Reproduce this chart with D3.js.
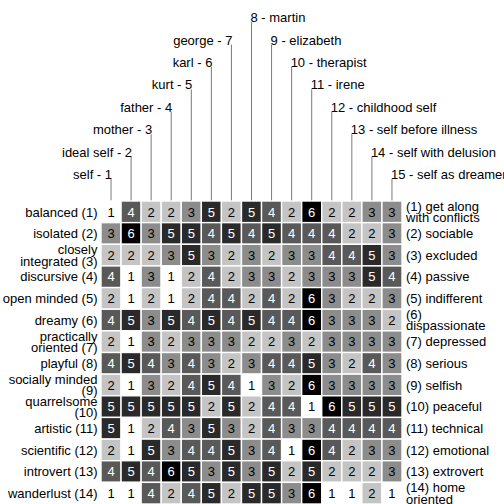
<!DOCTYPE html>
<html>
<head>
<meta charset="utf-8">
<script src="https://cdn.jsdelivr.net/npm/d3@7"></script>
<style>
  html, body { margin: 0; padding: 0; background: #fff; }
  svg { display: block; }
  text { font-family: "Liberation Sans", Arial, sans-serif; }
</style>
</head>
<body>
<svg id="chart" width="504" height="504"></svg>
<script>
const elements = ["self", "ideal self", "mother", "father", "kurt", "karl", "george", "martin",
  "elizabeth", "therapist", "irene", "childhood self", "self before illness", "self with delusion", "self as dreamer"];

const leftPoles = ["balanced (1)", "isolated (2)", "closely\nintegrated (3)", "discursive (4)", "open minded (5)",
  "dreamy (6)", "practically\noriented (7)", "playful (8)", "socially minded\n(9)", "quarrelsome\n(10)",
  "artistic (11)", "scientific (12)", "introvert (13)", "wanderlust (14)"];

const rightPoles = ["(1) get along\nwith conflicts", "(2) sociable", "(3) excluded", "(4) passive", "(5) indifferent",
  "(6)\ndispassionate", "(7) depressed", "(8) serious", "(9) selfish", "(10) peaceful",
  "(11) technical", "(12) emotional", "(13) extrovert", "(14) home\noriented"];

const ratings = [
  [1,4,2,2,3,5,2,5,4,2,6,2,2,3,3],
  [3,6,3,5,5,4,5,4,5,4,4,4,2,2,3],
  [2,2,2,3,5,3,2,3,2,3,3,4,4,5,3],
  [4,1,3,1,2,4,2,3,3,2,3,3,3,5,4],
  [2,1,2,1,2,4,4,2,4,2,6,3,2,2,3],
  [4,5,3,5,4,5,4,5,4,4,6,3,3,3,2],
  [2,1,3,2,3,3,3,2,2,3,2,3,3,3,3],
  [4,5,4,3,4,3,2,3,4,4,5,3,2,4,3],
  [2,1,3,2,4,5,4,1,3,2,6,3,3,3,3],
  [5,5,5,5,5,2,5,2,4,4,1,6,5,5,5],
  [5,1,2,4,3,5,3,2,4,3,3,4,4,4,4],
  [2,1,5,3,4,4,5,3,4,1,6,4,2,3,3],
  [4,5,4,6,5,3,5,3,5,2,5,2,2,2,3],
  [1,1,4,2,4,5,2,5,5,3,6,1,1,2,1]
];

const ratingLevels = [1,2,3,4,5,6];
const fillColors = ["#ffffff", "#c4c4c4", "#8c8c8c", "#595959", "#2a2a2a", "#000000"];
const textColors = ["#000000", "#000000", "#000000", "#ffffff", "#ffffff", "#ffffff"];

const svg = d3.select("#chart");
const gridLeft = 101, gridRight = 402, gridTop = 201, gridBottom = 504;
const fontSize = 13, lineH = 11.5;

const x = d3.scaleBand().domain(d3.range(elements.length)).range([gridLeft, gridRight]).paddingInner(0);
const y = d3.scaleBand().domain(d3.range(leftPoles.length)).range([gridTop, gridBottom]).paddingInner(0);
const fill = d3.scaleOrdinal().domain(ratingLevels).range(fillColors);
const tcol = d3.scaleOrdinal().domain(ratingLevels).range(textColors);

// label level scale for element labels
const levelY = d3.scaleLinear().domain([1, 8]).range([180, 23.2]);
const level = i => (i + 1 <= 8 ? i + 1 : 16 - (i + 1));

// element connector lines and labels
const el = svg.append("g");
elements.forEach((name, i) => {
  const cx = x(i) + x.bandwidth() / 2;
  const by = levelY(level(i));
  el.append("line")
    .attr("x1", cx).attr("x2", cx)
    .attr("y1", by - 1).attr("y2", gridTop)
    .attr("stroke", "#7a7a7a").attr("stroke-width", 1);
  const left = i < 7;
  el.append("text")
    .attr("x", left ? cx + 1 : cx - 1)
    .attr("y", by - 1)
    .attr("text-anchor", left ? "end" : "start")
    .attr("font-size", fontSize)
    .attr("fill", "#000")
    .text(left ? `${name} - ${i + 1}` : `${i + 1} - ${name}`);
});

// cells
const cells = [];
ratings.forEach((row, r) => row.forEach((v, c) => cells.push({ r, c, v })));
const cg = svg.append("g");
cg.selectAll("rect").data(cells).join("rect")
  .attr("x", d => x(d.c)).attr("y", d => y(d.r))
  .attr("width", x.bandwidth()).attr("height", y.bandwidth())
  .attr("fill", d => fill(d.v))
  .attr("stroke", "#ffffff").attr("stroke-width", 1.4);
cg.selectAll("text").data(cells).join("text")
  .attr("x", d => x(d.c) + x.bandwidth() / 2)
  .attr("y", d => y(d.r) + y.bandwidth() / 2)
  .attr("dy", "0.36em")
  .attr("text-anchor", "middle")
  .attr("font-size", fontSize)
  .attr("fill", d => tcol(d.v))
  .text(d => d.v);

// pole labels
function poleLabel(g, label, r, xx, anchor) {
  const lines = label.split("\n");
  const cy = y(r) + y.bandwidth() / 2;
  const t = g.append("text")
    .attr("text-anchor", anchor)
    .attr("font-size", fontSize)
    .attr("fill", "#000");
  lines.forEach((ln, k) => {
    t.append("tspan")
      .attr("x", xx)
      .attr("y", cy + (k - (lines.length - 1) / 2) * lineH)
      .attr("dy", "0.36em")
      .text(ln);
  });
}
const pg = svg.append("g");
leftPoles.forEach((l, r) => poleLabel(pg, l, r, 97.5, "end"));
rightPoles.forEach((l, r) => poleLabel(pg, l, r, 406, "start"));
</script>
</body>
</html>
